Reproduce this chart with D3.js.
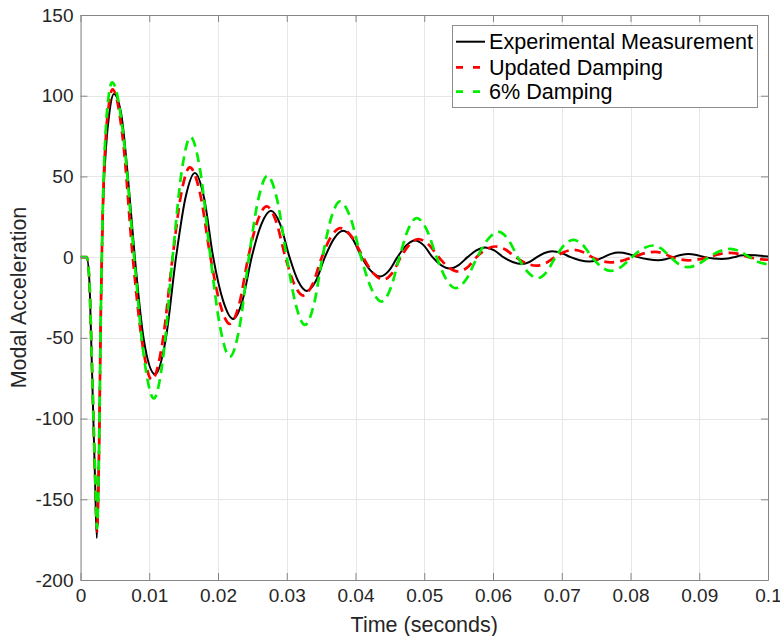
<!DOCTYPE html>
<html>
<head>
<meta charset="utf-8">
<script src="https://cdn.jsdelivr.net/npm/d3@7"></script>
<style>
  html, body { margin: 0; padding: 0; background: #fff; }
  svg { display: block; }
  text { font-family: "Liberation Sans", Arial, Helvetica, sans-serif; }
</style>
</head>
<body>
<svg id="chart" width="780" height="636"></svg>
<script>
// ---------- data ----------
const xTicks = [0, 0.01, 0.02, 0.03, 0.04, 0.05, 0.06, 0.07, 0.08, 0.09, 0.1];
const xTickLabels = ["0", "0.01", "0.02", "0.03", "0.04", "0.05", "0.06", "0.07", "0.08", "0.09", "0.1"];
const yTicks = [-200, -150, -100, -50, 0, 50, 100, 150];
const yTickLabels = ["-200", "-150", "-100", "-50", "0", "50", "100", "150"];
const seriesNames = ["Experimental Measurement", "Updated Damping", "6% Damping"];

const experimental = [
  [0,0],[0.0009,0],[0.00131,-16],[0.00146,-37],[0.00179,-88],[0.00213,-140],[0.00237,-174],
  [0.00262,-140],[0.00277,-99],[0.00291,-47],[0.0031,0],[0.00325,27],[0.00373,69],[0.00422,90],[0.00485,101],
  [0.00591,89],[0.00689,50],[0.0079,0],[0.0092,-51],[0.01086,-72.6],
  [0.01238,-51.3],[0.0139,0],[0.01527,36.8],[0.01664,52.1],
  [0.01797,36.8],[0.0193,0],[0.02075,-27.1],[0.0222,-38.3],
  [0.02355,-27.1],[0.0249,0],[0.0263,20.3],[0.0277,28.7],
  [0.02905,20.3],[0.0304,0],[0.03165,-14.8],[0.0329,-20.9],
  [0.03423,-14.8],[0.03555,0],[0.03688,11.5],[0.0382,16.3],
  [0.03955,11.5],[0.0409,0],[0.04224,-8.5],[0.04357,-12],
  [0.04484,-8.5],[0.0461,0],[0.04738,7.3],[0.04866,10.3],
  [0.04993,7.3],[0.0512,0],[0.05245,-4.9],[0.0537,-7],
  [0.055,-4.9],[0.0563,0],[0.05757,4.2],[0.05885,6],
  [0.06018,4.2],[0.0615,0],[0.06285,-3],[0.0642,-4.2],
  [0.0653,-3],[0.0664,0],[0.0675,2.6],[0.0686,3.7],
  [0.06995,2.6],[0.0713,0],[0.07265,-1.9],[0.074,-2.7],
  [0.07505,-1.9],[0.0761,0],[0.07718,2],[0.07825,2.8],
  [0.07968,2],[0.0811,0],[0.08255,-1.3],[0.084,-1.9],
  [0.0851,-1.3],[0.0862,0],[0.0873,1.3],[0.0884,1.9],
  [0.0896,1.3],[0.0908,0],[0.09205,-0.8],[0.0933,-1.1],
  [0.0942,-0.8],[0.0951,0],[0.096,1],[0.0969,1.4],
  [0.0985,1.0],[0.1,0.4]
];

const updatedDamping = [
  [0,0],[0.0009,0],[0.00131,-16],[0.00146,-36],[0.00179,-86],[0.00213,-137],[0.0024,-170],
  [0.00264,-135],[0.00278,-95],[0.00292,-45],[0.0031,0],[0.00325,30],[0.00365,72],[0.00415,95],[0.00465,104],
  [0.00615,73.5],[0.0076,0],[0.009,-53.7],[0.01038,-76],
  [0.01189,-53.7],[0.0134,0],[0.01465,39.3],[0.0159,55.6],
  [0.0174,39.3],[0.0189,0],[0.02032,-29.3],[0.02173,-41.4],
  [0.02307,-29.3],[0.0244,0],[0.02574,22.2],[0.02707,31.4],
  [0.02844,22.2],[0.0298,0],[0.0311,-16.8],[0.0324,-23.8],
  [0.03375,-16.8],[0.0351,0],[0.03645,12.7],[0.0378,18],
  [0.03945,12.7],[0.0411,0],[0.04258,-9.9],[0.04405,-14],
  [0.04533,-9.9],[0.0466,0],[0.04787,7.9],[0.04914,11.2],
  [0.05062,7.9],[0.0521,0],[0.05355,-6.3],[0.055,-8.9],
  [0.0563,-6.3],[0.0576,0],[0.05895,4.7],[0.0603,6.6],
  [0.0618,4.7],[0.0633,0],[0.0648,-3.7],[0.0663,-5.3],
  [0.06765,-3.7],[0.069,0],[0.07035,3.2],[0.0717,4.5],
  [0.07305,3.2],[0.0744,0],[0.07575,-2.3],[0.0771,-3.2],
  [0.0787,-2.3],[0.0803,0],[0.08195,2.3],[0.0836,3.3],
  [0.0848,2.3],[0.086,0],[0.0872,-1.4],[0.0884,-2],
  [0.0899,-1.4],[0.0914,0],[0.09295,1.9],[0.0945,2.7],
  [0.09585,1.9],[0.0972,0],[0.0986,-1.1],[0.1,-1.6]
];

const sixPercentDamping = [
  [0,0],[0.0009,0],[0.00131,-16],[0.00146,-36],[0.00179,-86],[0.00213,-135],[0.0024,-168],
  [0.00264,-134],[0.00278,-95],[0.00292,-45],[0.0031,0],[0.00325,32],[0.00365,77],[0.0041,100],[0.0046,108.3],
  [0.0062,76.6],[0.0078,0],[0.00923,-61.9],[0.01067,-87.5],
  [0.01203,-61.9],[0.0134,0],[0.0147,52.6],[0.016,74.4],
  [0.01745,52.6],[0.0189,0],[0.02032,-43.6],[0.02173,-61.7],
  [0.02312,-43.6],[0.0245,0],[0.02585,35.6],[0.0272,50.4],
  [0.0286,35.6],[0.03,0],[0.03133,-29.7],[0.03265,-42],
  [0.03393,-29.7],[0.0352,0],[0.03647,24.4],[0.03774,34.5],
  [0.03927,24.4],[0.0408,0],[0.0423,-19.4],[0.0438,-27.5],
  [0.0451,-19.4],[0.0464,0],[0.04765,17.1],[0.0489,24.2],
  [0.05035,17.1],[0.0518,0],[0.05318,-13.6],[0.05455,-19.2],
  [0.05613,-13.6],[0.0577,0],[0.05925,11],[0.0608,15.6],
  [0.0622,11],[0.0636,0],[0.06505,-9.2],[0.0665,-13],
  [0.0678,-9.2],[0.0691,0],[0.0704,7.6],[0.0717,10.7],
  [0.07305,7.6],[0.0744,0],[0.07575,-6],[0.0771,-8.5],
  [0.07865,-6],[0.0802,0],[0.08175,5.1],[0.0833,7.2],
  [0.08455,5.1],[0.0858,0],[0.08705,-4.4],[0.0883,-6.2],
  [0.08985,-4.4],[0.0914,0],[0.09295,3.6],[0.0945,5.1],
  [0.0959,3.6],[0.0973,0],[0.0987,-3.2],[0.1,-4.5]
];

// ---------- layout ----------
const L = 80.5, R = 768, T = 15, B = 580;
const svg = d3.select("#chart");
const x = d3.scaleLinear().domain([0, 0.1]).range([L, R]);
const y = d3.scaleLinear().domain([-200, 150]).range([B, T]);

const axisColor = "#868686";
const textColor = "#262626";

// grid
const grid = svg.append("g");
grid.selectAll("line.vx").data(xTicks).join("line")
  .attr("x1", d => Math.round(x(d)) + 0.5).attr("x2", d => Math.round(x(d)) + 0.5)
  .attr("y1", T).attr("y2", B)
  .attr("stroke", "#e6e6e6").attr("stroke-width", 1);
grid.selectAll("line.hy").data(yTicks).join("line")
  .attr("y1", d => Math.round(y(d)) + 0.5).attr("y2", d => Math.round(y(d)) + 0.5)
  .attr("x1", L).attr("x2", R)
  .attr("stroke", "#e6e6e6").attr("stroke-width", 1);

// clip
svg.append("defs").append("clipPath").attr("id", "plotclip")
  .append("rect").attr("x", L).attr("y", T - 2).attr("width", R - L).attr("height", B - T + 4);

// lines
const line = d3.line().x(d => x(d[0])).y(d => y(d[1])).curve(d3.curveMonotoneX);
const plot = svg.append("g").attr("clip-path", "url(#plotclip)");
plot.append("path").datum(experimental).attr("d", line)
  .attr("fill", "none").attr("stroke", "#000").attr("stroke-width", 2).attr("stroke-linejoin", "round");
plot.append("path").datum(updatedDamping).attr("d", line)
  .attr("fill", "none").attr("stroke", "#ff0000").attr("stroke-width", 2.7)
  .attr("stroke-dasharray", "10,6");
plot.append("path").datum(sixPercentDamping).attr("d", line)
  .attr("fill", "none").attr("stroke", "#00ee00").attr("stroke-width", 2.7)
  .attr("stroke-dasharray", "10,6");

// axes
function styleAxis(g) {
  g.select(".domain").attr("stroke", axisColor);
  g.selectAll(".tick line").attr("stroke", axisColor);
  g.selectAll(".tick text").attr("fill", textColor).style("font-size", "19px")
    .style("font-family", '"Liberation Sans", Arial, Helvetica, sans-serif');
}
const xAxis = d3.axisBottom(x).tickValues(xTicks).tickFormat((d, i) => xTickLabels[i])
  .tickSizeInner(-7).tickSizeOuter(0).tickPadding(9);
svg.append("g").attr("transform", `translate(0,${B})`).call(xAxis).call(styleAxis);

const xAxisTop = d3.axisTop(x).tickValues(xTicks).tickFormat("")
  .tickSizeInner(-7).tickSizeOuter(0);
svg.append("g").attr("transform", `translate(0,${T})`).call(xAxisTop).call(styleAxis);

const yAxis = d3.axisLeft(y).tickValues(yTicks).tickFormat((d, i) => yTickLabels[i])
  .tickSizeInner(-7).tickSizeOuter(0).tickPadding(7);
svg.append("g").attr("transform", `translate(${L},0)`).call(yAxis).call(styleAxis);

const yAxisRight = d3.axisRight(y).tickValues(yTicks).tickFormat("")
  .tickSizeInner(-7).tickSizeOuter(0);
svg.append("g").attr("transform", `translate(${R},0)`).call(yAxisRight).call(styleAxis);

// axis labels
svg.append("text").attr("x", (L + R) / 2).attr("y", 624).attr("dy", "0.35em")
  .attr("text-anchor", "middle").attr("fill", textColor).style("font-size", "21.5px")
  .text("Time (seconds)");
svg.append("text").attr("transform", `translate(18,${(T + B) / 2}) rotate(-90)`)
  .attr("dy", "0.35em").attr("text-anchor", "middle").attr("fill", textColor)
  .style("font-size", "21.5px").text("Modal Acceleration");

// legend
const lg = svg.append("g");
lg.append("rect").attr("x", 452.5).attr("y", 25.5).attr("width", 305).attr("height", 82)
  .attr("fill", "#fff").attr("stroke", "#8c8c8c").attr("stroke-width", 1);
const legendStyles = [
  { color: "#000", width: 2, dash: null },
  { color: "#ff0000", width: 2.7, dash: "7,10" },
  { color: "#00ee00", width: 2.7, dash: "7,10" }
];
const rowY = [41.7, 67.3, 91.7];
seriesNames.forEach((name, i) => {
  const s = legendStyles[i];
  const ln = lg.append("line").attr("x1", 456).attr("x2", 485)
    .attr("y1", rowY[i]).attr("y2", rowY[i])
    .attr("stroke", s.color).attr("stroke-width", s.width);
  if (s.dash) ln.attr("stroke-dasharray", s.dash);
  lg.append("text").attr("x", 489).attr("y", rowY[i]).attr("dy", "0.35em")
    .attr("fill", "#000").style("font-size", "21.6px").text(name);
});
</script>
</body>
</html>
